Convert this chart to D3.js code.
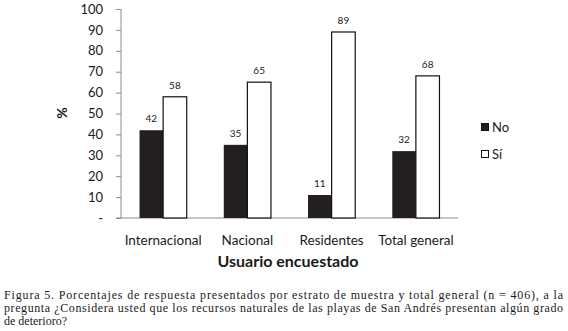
<!DOCTYPE html>
<html>
<head>
<meta charset="utf-8">
<script src="https://cdn.jsdelivr.net/npm/d3@7"></script>
<style>
  body { margin: 0; background: #fff; }
  svg text { font-family: Lato, 'Open Sans', sans-serif; fill: #1a1a1a; }
  svg text.caption { font-family: 'Liberation Serif', 'DejaVu Serif', serif; }
</style>
</head>
<body>
<div id="chart"></div>
<script>
const categories = ['Internacional', 'Nacional', 'Residentes', 'Total general']
const seriesNames = ['No', 'Sí']
const noValues = [42, 35, 11, 32]
const siValues = [58, 65, 89, 68]
const yTicks = [0, 10, 20, 30, 40, 50, 60, 70, 80, 90, 100]
const captionLines = [
  'Figura 5. Porcentajes de respuesta presentados por estrato de muestra y total general (n = 406), a la',
  'pregunta ¿Considera usted que los recursos naturales de las playas de San Andrés presentan algún grado',
  'de deterioro?'
]

const w = 568, h = 331
const margin = { top: 9, left: 121, right: 110, bottom: 113 }
const gW = w - margin.left - margin.right, gH = h - margin.top - margin.bottom

const data = categories.map((c, i) => ({ name: c, No: noValues[i], 'Sí': siValues[i] }))

const svg = d3.select('#chart').append('svg').attr('width', w).attr('height', h)
const g = svg.append('g').attr('transform', `translate(${margin.left}, ${margin.top})`)

const x0 = d3.scaleBand().domain(categories).range([0, gW]).padding(0)
const bW = x0.bandwidth() * 0.28
const x1 = d3.scaleBand().domain(seriesNames).range([x0.bandwidth() / 2 - bW, x0.bandwidth() / 2 + bW])
const y = d3.scaleLinear().domain([0, 100]).range([gH, 0])
const fills = { No: '#231f20', 'Sí': '#fff' }

// y axis
const yAxis = g.append('g').call(d3.axisLeft(y).tickValues(yTicks).tickSize(5).tickPadding(13)
  .tickFormat(d => d === 0 ? '-' : d))
yAxis.selectAll('line, path').attr('stroke', '#8c8c8c')
yAxis.select('.domain').attr('d', `M0,${gH}V0`)
yAxis.selectAll('text').attr('font-size', 13).attr('fill', '#1a1a1a')
  .style('font-family', 'Lato, sans-serif')

// x axis line
g.append('line').attr('x1', -5).attr('x2', gW).attr('y1', gH).attr('y2', gH)
  .attr('stroke', '#8c8c8c')

// bars
const groups = g.selectAll('g.cat').data(data).enter().append('g').classed('cat', true)
  .attr('transform', d => `translate(${x0(d.name)},0)`)
groups.selectAll('rect').data(d => seriesNames.map(k => ({ key: k, value: d[k] }))).enter()
  .append('rect')
  .attr('x', d => x1(d.key))
  .attr('y', d => y(d.value))
  .attr('width', x1.bandwidth())
  .attr('height', d => gH - y(d.value))
  .attr('fill', d => fills[d.key])
  .attr('stroke', d => d.key === 'Sí' ? '#111' : 'none')
  .attr('stroke-width', 1.2)
groups.selectAll('text').data(d => seriesNames.map(k => ({ key: k, value: d[k] }))).enter()
  .append('text').text(d => d.value)
  .attr('x', d => x1(d.key) + x1.bandwidth() / 2)
  .attr('y', d => y(d.value) - 8)
  .attr('text-anchor', 'middle').attr('font-size', 10)

// category labels
g.selectAll('text.xl').data(categories).enter().append('text').classed('xl', true)
  .text(d => d)
  .attr('x', d => x0(d) + x0.bandwidth() / 2).attr('y', gH + 27)
  .attr('text-anchor', 'middle').attr('font-size', 13.5)

// axis titles
svg.append('text').text('Usuario encuestado').attr('x', 288).attr('y', 267)
  .attr('text-anchor', 'middle').attr('font-size', 16).attr('font-weight', 'bold')
svg.append('text').text('%').attr('transform', 'translate(67,113) rotate(-90)')
  .attr('text-anchor', 'middle').attr('font-size', 14).attr('font-weight', 'bold')

// legend
const legend = svg.append('g').attr('transform', 'translate(481,123)')
const li = legend.selectAll('g').data(seriesNames).enter().append('g')
  .attr('transform', (d, i) => `translate(0,${i * 27})`)
li.append('rect').attr('width', 7).attr('height', 7).attr('x', 0.5).attr('y', 0.5)
  .attr('fill', d => fills[d]).attr('stroke', '#111').attr('stroke-width', 1)
li.append('text').text(d => d).attr('x', 11).attr('y', 8.5).attr('font-size', 13)

// caption
svg.selectAll('text.caption').data(captionLines).enter().append('text').classed('caption', true)
  .text(d => d)
  .attr('x', 4).attr('y', (d, i) => 299 + i * 13)
  .attr('font-size', 12)
  .each(function (d, i) {
    if (i < captionLines.length - 1) {
      d3.select(this).attr('textLength', 559).attr('lengthAdjust', 'spacing')
    }
  })
</script>
</body>
</html>
